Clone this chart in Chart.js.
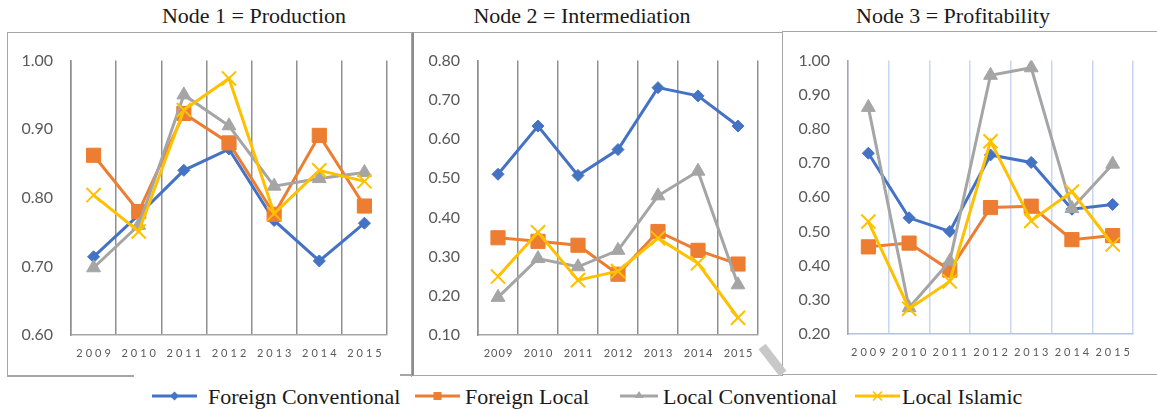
<!DOCTYPE html>
<html>
<head>
<meta charset="utf-8">
<script src="https://cdn.jsdelivr.net/npm/chart.js@4/dist/chart.umd.min.js"></script>
<style>
    body { margin: 0; background: #fff; }
    #page { position: relative; width: 1157px; height: 409px; overflow: hidden; background: #fff; }
    .title { position: absolute; top: 5px; width: 300px; margin-left: -150px; text-align: center;
        font: 22px/22px "Liberation Serif", "DejaVu Serif", serif; color: #1a1a1a; white-space: nowrap; }
    .box { position: absolute; border: 1.5px solid #a6a6a6; box-sizing: border-box; }
    .hline { position: absolute; height: 1.5px; background: #a6a6a6; }
    canvas { position: absolute; }
    .legend-item { position: absolute; top: 386px; height: 22px; }
    .legend-item svg { position: absolute; left: 0; top: 0; }
    .legend-item span { position: absolute; top: 0; white-space: nowrap;
        font: 22px/22px "Liberation Serif", "DejaVu Serif", serif; color: #1a1a1a; }
    #handle { position: absolute; left: 768px; top: 343px; width: 9px; height: 34px; background: #c8c8c8;
        transform: rotate(-38deg); }
</style>
</head>
<body>
<div id="page">
    <div class="title" style="left: 254px;">Node 1 = Production</div>
    <div class="title" style="left: 582px;">Node 2 = Intermediation</div>
    <div class="title" style="left: 953px;">Node 3 = Profitability</div>

    <div class="box" style="left: 7px; top: 32px; width: 405px; height: 345px; border-bottom: none;"></div>
    <div class="hline" style="left: 7px; top: 375px; width: 127px;"></div>
    <div class="hline" style="left: 400px; top: 374px; width: 12px;"></div>
    <div class="box" style="left: 412px; top: 32px; width: 371px; height: 344px; border-left: 2px solid #8c8c8c;"></div>
    <div class="box" style="left: 782px; top: 31px; width: 380px; height: 344px;"></div>
    <div id="handle"></div>

    <canvas id="chart1" width="403" height="342" style="left: 8px; top: 33px;"></canvas>
    <canvas id="chart2" width="369" height="342" style="left: 413px; top: 33px;"></canvas>
    <canvas id="chart3" width="374" height="341" style="left: 783px; top: 33px;"></canvas>

    <div class="legend-item" style="left: 152px;">
        <svg width="50" height="22"><line x1="0" y1="10" x2="45" y2="10" stroke="#4472c4" stroke-width="3"/>
            <polygon points="22.5,5.5 27,10 22.5,14.5 18,10" fill="#4472c4"/></svg>
        <span style="left: 56px;">Foreign Conventional</span>
    </div>
    <div class="legend-item" style="left: 415px;">
        <svg width="50" height="22"><line x1="0" y1="10" x2="45" y2="10" stroke="#ed7d31" stroke-width="3"/>
            <rect x="18.5" y="6" width="8" height="8" fill="#ed7d31"/></svg>
        <span style="left: 50px;">Foreign Local</span>
    </div>
    <div class="legend-item" style="left: 620px;">
        <svg width="50" height="22"><line x1="0" y1="10" x2="38" y2="10" stroke="#a5a5a5" stroke-width="3"/>
            <polygon points="19,5 23.5,12 14.5,12" fill="#a5a5a5"/></svg>
        <span style="left: 43px;">Local Conventional</span>
    </div>
    <div class="legend-item" style="left: 855px;">
        <svg width="50" height="22"><line x1="0" y1="10" x2="45" y2="10" stroke="#ffc000" stroke-width="3"/>
            <path d="M18 5.5 L27 14.5 M27 5.5 L18 14.5" stroke="#ffc000" stroke-width="1.5"/></svg>
        <span style="left: 47px;">Local Islamic</span>
    </div>
</div>

<script>
const years = ['2009', '2010', '2011', '2012', '2013', '2014', '2015'];
const seriesNames = ['Foreign Conventional', 'Foreign Local', 'Local Conventional', 'Local Islamic'];

// Node 1 = Production
const productionForeignConv = [0.714, 0.775, 0.840, 0.871, 0.767, 0.708, 0.763];
const productionForeignLocal = [0.862, 0.780, 0.923, 0.880, 0.776, 0.891, 0.788];
const productionLocalConv = [0.698, 0.760, 0.950, 0.905, 0.817, 0.828, 0.837];
const productionLocalIslamic = [0.804, 0.751, 0.928, 0.974, 0.777, 0.840, 0.824];

// Node 2 = Intermediation
const intermForeignConv = [0.510, 0.633, 0.507, 0.573, 0.731, 0.710, 0.633];
const intermForeignLocal = [0.348, 0.339, 0.329, 0.255, 0.364, 0.316, 0.281];
const intermLocalConv = [0.196, 0.295, 0.274, 0.316, 0.455, 0.518, 0.228];
const intermLocalIslamic = [0.249, 0.362, 0.240, 0.263, 0.347, 0.283, 0.144];

// Node 3 = Profitability
const profitForeignConv = [0.729, 0.540, 0.500, 0.724, 0.702, 0.565, 0.579];
const profitForeignLocal = [0.455, 0.466, 0.387, 0.570, 0.574, 0.476, 0.488];
const profitLocalConv = [0.863, 0.277, 0.413, 0.957, 0.979, 0.567, 0.697];
const profitLocalIslamic = [0.529, 0.274, 0.354, 0.764, 0.531, 0.617, 0.462];

const colors = ['#4472c4', '#ed7d31', '#a5a5a5', '#ffc000'];
const pointStyles = ['rectRot', 'rect', 'triangle', 'crossRot'];
const pointSizes = [6, 10, 8, 10];

// canvas has letterSpacing, chart.js just doesn't set it
const spacedTicks = {
    id: 'spacedTicks',
    beforeDraw(chart, args, opts) {
        const scale = chart.scales.x;
        if (scale._spaced) return;
        const orig = scale.drawLabels;
        scale.drawLabels = function (area) {
            const ctx = this.ctx;
            ctx.save();
            ctx.letterSpacing = opts.spacing + 'px';
            ctx.translate(opts.spacing / 2, 0);
            orig.call(this, area);
            ctx.restore();
        };
        scale._spaced = true;
    }
};

function makePanel(canvasId, values, min, max, opts) {
    const datasets = values.map((data, i) => ({
        label: seriesNames[i],
        data: data,
        borderColor: colors[i],
        backgroundColor: colors[i],
        borderWidth: 3,
        pointStyle: pointStyles[i],
        pointRadius: pointSizes[i],
        pointBackgroundColor: colors[i],
        pointBorderColor: colors[i],
        pointBorderWidth: i === 3 ? 2 : 1,
        order: 4 - i
    }));

    const ctx = document.getElementById(canvasId).getContext('2d');
    return new Chart(ctx, {
        type: 'line',
        data: { labels: years, datasets: datasets },
        plugins: [spacedTicks],
        options: {
            responsive: false,
            animation: false,
            devicePixelRatio: 1,
            layout: { padding: { top: 24, right: 24, bottom: 0, left: 0 } },
            elements: { line: { tension: 0 } },
            plugins: {
                legend: { display: false },
                tooltip: { enabled: false },
                spacedTicks: { spacing: opts.spacing }
            },
            scales: {
                x: {
                    offset: true,
                    grid: { offset: true, drawTicks: false, color: opts.gridColor, lineWidth: 1.5 },
                    border: { display: true, color: opts.axisColor, width: 1.5 },
                    ticks: { color: '#595959', padding: 12, maxRotation: 0, autoSkip: false,
                        font: { family: 'Lato', size: 11 } },
                    afterFit: scale => { scale.height = 40; }
                },
                y: {
                    min: min,
                    max: max,
                    grid: { display: false, drawTicks: false },
                    border: { display: true, color: opts.yAxisColor, width: 1.5 },
                    ticks: { stepSize: 0.1, color: '#595959', padding: 18,
                        font: { family: 'Lato', size: 16 },
                        callback: value => value.toFixed(2) },
                    afterFit: scale => { scale.width = opts.axisWidth; }
                }
            }
        }
    });
}

makePanel('chart1',
    [productionForeignConv, productionForeignLocal, productionLocalConv, productionLocalIslamic],
    0.6, 1.0,
    { gridColor: '#8f8f8f', axisColor: '#a6a6a6', yAxisColor: '#8f8f8f', axisWidth: 63, spacing: 3 });

makePanel('chart2',
    [intermForeignConv, intermForeignLocal, intermLocalConv, intermLocalIslamic],
    0.1, 0.8,
    { gridColor: '#8f8f8f', axisColor: '#a6a6a6', yAxisColor: '#8f8f8f', axisWidth: 65, spacing: 1 });

makePanel('chart3',
    [profitForeignConv, profitForeignLocal, profitLocalConv, profitLocalIslamic],
    0.2, 1.0,
    { gridColor: '#c8d6ef', axisColor: '#b4c3dc', yAxisColor: '#a6a6a6', axisWidth: 65, spacing: 3 });
</script>
</body>
</html>
